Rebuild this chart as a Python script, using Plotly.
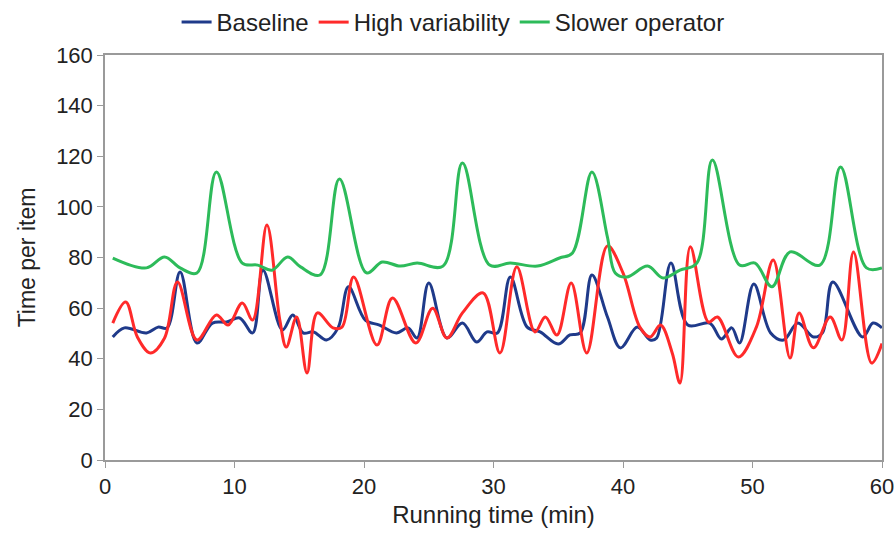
import plotly.graph_objects as go

base_x = [0.6, 1.5, 3.2, 4.1, 4.8, 5.8, 7.1, 8.3, 9.4, 10.4, 11.4, 12.2, 13.7, 14.5, 15.3, 16.1, 17.1, 18.0, 18.8,
          20.1, 21.2, 22.5, 23.4, 24.1, 25.0, 26.4, 27.6, 28.7, 29.5, 30.3, 31.3, 32.6, 33.6, 35.0, 35.9, 36.7,
          37.6, 38.8, 39.8, 41.1, 42.1, 42.6, 43.7, 45.0, 46.7, 47.6, 48.4, 49.0, 50.1, 51.4, 52.4, 53.5, 54.7,
          55.4, 56.2, 58.5, 59.3, 60.0]
base_y = [48.6, 52.2, 50.2, 52.5, 52.2, 74.3, 46.2, 54.1, 54.5, 56.1, 50.2, 75.0, 51.4, 57.3, 50.2, 50.6, 47.4, 52.2, 68.4,
          55.3, 53.3, 50.2, 52.2, 48.2, 69.9, 48.2, 54.1, 46.6, 50.6, 50.2, 72.3, 52.5, 50.6, 45.8, 49.4, 50.2,
          73.1, 56.5, 44.3, 52.5, 47.4, 48.2, 77.8, 53.3, 54.1, 47.8, 52.2, 46.2, 69.5, 50.2, 47.4, 54.1, 48.6,
          50.2, 70.3, 48.6, 54.1, 52.2]

high_x = [0.6, 1.6, 2.5, 3.5, 4.6, 5.6, 7.1, 8.6, 9.5, 10.6, 11.4, 12.5, 13.5, 14.0, 14.8, 15.6, 16.4, 17.6, 18.3, 19.2,
          21.0, 22.2, 24.0, 25.3, 26.4, 27.6, 29.2, 30.5, 31.8, 33.2, 34.0, 34.9, 36.0, 37.2, 38.8, 40.0, 41.3,
          42.1, 42.9, 43.8, 44.4, 45.2, 46.6, 47.3, 48.9, 50.3, 51.6, 52.9, 53.6, 54.7, 56.0, 56.9, 57.8, 59.2, 60.0]
high_y = [54.1, 62.4, 48.6, 42.3, 48.2, 70.3, 47.4, 57.3, 53.3, 62.0, 55.3, 92.8, 55.3, 44.6, 56.5, 34.4, 58.1, 52.2, 52.5, 72.3,
          45.4, 64.0, 46.2, 60.0, 48.2, 58.1, 66.0, 42.3, 76.3, 50.6, 56.5, 49.4, 69.9, 42.3, 84.6, 73.9, 52.5,
          48.6, 53.3, 42.3, 30.4, 84.2, 54.5, 56.5, 40.7, 52.5, 79.0, 40.3, 58.1, 44.3, 56.5, 47.4, 82.2, 38.3, 46.0]

slow_x = [0.6, 3.2, 4.6, 5.8, 7.1, 8.6, 10.6, 11.8, 12.9, 14.1, 15.1, 16.6, 18.1, 20.2, 21.4, 22.8, 24.1, 26.1, 27.6,
          29.7, 31.3, 33.4, 35.1, 36.1, 37.6, 38.8, 39.4, 40.3, 41.9, 43.1, 44.4, 45.7, 46.9, 49.0, 50.2, 51.5,
          52.9, 55.2, 56.8, 58.8, 60.0]
slow_y = [79.8, 75.9, 80.2, 75.9, 73.9, 113.8, 77.8, 77.0, 75.0, 80.2, 76.3, 73.1, 111.0, 73.9, 78.2, 76.6, 77.8, 76.6, 117.3,
          77.0, 77.8, 76.6, 79.8, 81.8, 113.8, 88.0, 73.9, 72.3, 76.6, 71.9, 75.0, 77.8, 118.5, 77.0, 77.8, 68.4,
          82.2, 77.0, 115.8, 75.9, 75.9]

x_ticks = [0, 10, 20, 30, 40, 50, 60]
y_ticks = [0, 20, 40, 60, 80, 100, 120, 140, 160]

fig = go.Figure()
fig.add_trace(go.Scatter(x=base_x, y=base_y, name="Baseline", mode="lines",
                         line=dict(color="#1f3a8a", width=3, shape="spline", smoothing=1.0)))
fig.add_trace(go.Scatter(x=high_x, y=high_y, name="High variability", mode="lines",
                         line=dict(color="#ff2a2a", width=3, shape="spline", smoothing=1.0)))
fig.add_trace(go.Scatter(x=slow_x, y=slow_y, name="Slower operator", mode="lines",
                         line=dict(color="#2dbb5a", width=3, shape="spline", smoothing=1.0)))

axis_common = dict(showgrid=False, zeroline=False, showline=True, linecolor="#9a9a9a", linewidth=1.5,
                   mirror=True, ticks="outside", tickcolor="#9a9a9a", ticklen=6, automargin=False,
                   tickfont=dict(size=22, color="#222"))

fig.update_layout(
    width=896, height=536,
    margin=dict(l=105, r=14, t=55, b=76),
    paper_bgcolor="white", plot_bgcolor="white",
    font=dict(family="Liberation Sans, Arial, sans-serif", color="#222"),
    legend=dict(orientation="h", x=0.448, xanchor="center", yref="container", y=1.0, yanchor="top",
                font=dict(size=24), itemwidth=30, tracegroupgap=0),
    xaxis=dict(range=[0, 60], tickvals=x_ticks, title=dict(text="Running time (min)", font=dict(size=24), standoff=8),
               **axis_common),
    yaxis=dict(range=[0, 160], tickvals=y_ticks, title=dict(text="Time per item", font=dict(size=23), standoff=14),
               **axis_common),
)

fig.write_html("out.html")
